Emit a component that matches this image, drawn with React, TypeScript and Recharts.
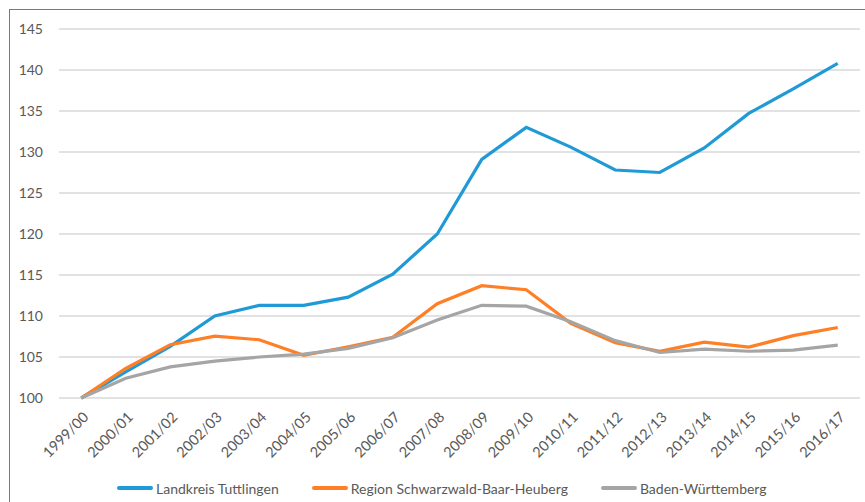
import { CartesianGrid, Legend, Line, LineChart, XAxis, YAxis } from "recharts";

const BLUE = "#1f9ad6";
const ORANGE = "#ff7f27";
const GREY = "#a5a5a5";
const TEXT = "#595959";
const FONT = "Lato, 'Open Sans', sans-serif";

const years = [
  "1999/00", "2000/01", "2001/02", "2002/03", "2003/04", "2004/05",
  "2005/06", "2006/07", "2007/08", "2008/09", "2009/10", "2010/11",
  "2011/12", "2012/13", "2013/14", "2014/15", "2015/16", "2016/17",
];

const tuttlingen = [
  100, 103.2, 106.3, 110.0, 111.3, 111.3, 112.3, 115.1, 120.0,
  129.1, 133.0, 130.6, 127.8, 127.5, 130.5, 134.7, 137.7, 140.8,
];

const region = [
  100, 103.6, 106.5, 107.55, 107.1, 105.2, 106.25, 107.4, 111.5,
  113.7, 113.2, 109.1, 106.75, 105.7, 106.8, 106.2, 107.6, 108.6,
];

const bw = [
  100, 102.4, 103.8, 104.5, 105.0, 105.35, 106.05, 107.35, 109.5,
  111.3, 111.2, 109.3, 107.0, 105.55, 105.95, 105.7, 105.85, 106.45,
];

const yTicks = [100, 105, 110, 115, 120, 125, 130, 135, 140, 145];

// legend order as in the original
const seriesOrder = ["tuttlingen", "region", "bw"];

const data = years.map((year, i) => ({
  year,
  tuttlingen: tuttlingen[i],
  region: region[i],
  bw: bw[i],
}));

function YearTick(props: any) {
  const { x, y, payload } = props;
  const tx = x + 1;
  const ty = y + 5;
  return (
    <text
      x={tx}
      y={ty}
      dy="0.7em"
      textAnchor="end"
      transform={`rotate(-45, ${tx}, ${ty})`}
      fill={TEXT}
      fontSize={14.5}
      fontFamily={FONT}
    >
      {payload.value}
    </text>
  );
}

function LegendBox(props: any) {
  const items = [...(props.payload || [])].sort(
    (a: any, b: any) => seriesOrder.indexOf(a.dataKey) - seriesOrder.indexOf(b.dataKey)
  );
  return (
    <div style={{ display: "flex", alignItems: "center", height: 28, fontFamily: FONT, fontSize: 14, color: TEXT }}>
      {items.map((it: any, i: number) => (
        <div key={i} style={{ display: "flex", alignItems: "center", marginRight: 33 }}>
          <span style={{ display: "inline-block", width: 36, height: 4, background: it.color, marginRight: 3, borderRadius: 2 }} />
          <span>{it.value}</span>
        </div>
      ))}
    </div>
  );
}

export default function App() {
  return (
    <div style={{ position: "absolute", left: 0, top: 0, width: 865, height: 502, background: "#fff", overflow: "hidden" }}>
      <div
        style={{
          position: "absolute",
          left: 9,
          top: 9,
          width: 900,
          height: 600,
          borderLeft: "1.5px solid #6e7d8b",
          borderTop: "1.5px solid #6e7d8b",
        }}
      />
      <div style={{ position: "absolute", left: 0, top: 0 }}>
        <LineChart width={865} height={502} data={data} margin={{ top: 29, right: 5, bottom: 0, left: 0 }}>
          <CartesianGrid vertical={false} stroke="#d9d9d9" strokeWidth={1.3} />
          <XAxis
            dataKey="year"
            scale="band"
            interval={0}
            axisLine={false}
            tickLine={false}
            height={76}
            tick={<YearTick />}
          />
          <YAxis
            domain={[100, 145]}
            ticks={yTicks}
            width={59}
            axisLine={false}
            tickLine={false}
            tickMargin={10}
            tick={{ fill: TEXT, fontSize: 14, fontFamily: FONT }}
          />
          <Legend
            verticalAlign="bottom"
            content={<LegendBox />}
            wrapperStyle={{ left: 117, width: 720, height: 28 }}
          />
          <Line dataKey="tuttlingen" name="Landkreis Tuttlingen" stroke={BLUE} strokeWidth={3.2} dot={false} isAnimationActive={false} />
          <Line dataKey="region" name="Region Schwarzwald-Baar-Heuberg" stroke={ORANGE} strokeWidth={3.2} dot={false} isAnimationActive={false} />
          <Line dataKey="bw" name="Baden-Württemberg" stroke={GREY} strokeWidth={3.2} dot={false} isAnimationActive={false} />
        </LineChart>
      </div>
    </div>
  );
}
